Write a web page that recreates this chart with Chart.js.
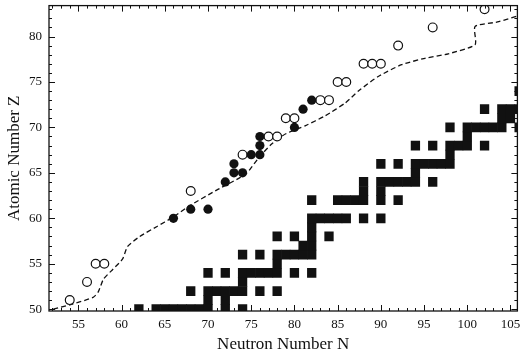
<!DOCTYPE html>
<html>
<head>
<meta charset="utf-8">
<script src="https://cdn.jsdelivr.net/npm/chart.js@4.4.1/dist/chart.umd.min.js"></script>
<style>
  html, body { margin: 0; padding: 0; background: #fff; }
  #wrap { width: 523px; height: 355px; position: relative; }
</style>
</head>
<body>
<div id="wrap"><canvas id="chart"></canvas></div>
<script>
  // tick labels
  const xTicks = [55, 60, 65, 70, 75, 80, 85, 90, 95, 100, 105];
  const yTicks = [50, 55, 60, 65, 70, 75, 80];

  // stable nuclei: proton number and the neutron numbers at that Z
  const stableZ = [50, 51, 52, 53, 54, 55, 56, 57, 58, 59, 60, 62, 63, 64, 65, 66, 67, 68, 69, 70, 71, 72, 74];
  const stableN = [
    [62, 64, 65, 66, 67, 68, 69, 70, 72, 74],
    [70, 72],
    [68, 70, 71, 72, 73, 74, 76, 78],
    [74],
    [70, 72, 74, 75, 76, 77, 78, 80, 82],
    [78],
    [74, 76, 78, 79, 80, 81, 82],
    [81, 82],
    [78, 80, 82, 84],
    [82],
    [82, 83, 84, 85, 86, 88, 90],
    [82, 85, 86, 87, 88, 90, 92],
    [88, 90],
    [88, 90, 91, 92, 93, 94, 96],
    [94],
    [90, 92, 94, 95, 96, 97, 98],
    [98],
    [94, 96, 98, 99, 100, 102],
    [100],
    [98, 100, 101, 102, 103, 104, 106],
    [104, 105],
    [102, 104, 105, 106],
    [106]
  ];

  // open circles
  const openN = [54, 56, 57, 58, 68, 74, 77, 78, 79, 80, 83, 84, 85, 86, 88, 89, 90, 92, 96, 102];
  const openZ = [51, 53, 55, 55, 63, 67, 69, 69, 71, 71, 73, 73, 75, 75, 77, 77, 77, 79, 81, 83];

  // filled circles
  const filledN = [66, 68, 70, 72, 73, 74, 73, 75, 76, 76, 76, 80, 81, 82];
  const filledZ = [60, 61, 61, 64, 65, 65, 66, 67, 67, 68, 69, 70, 72, 73];

  // dashed line
  const dripN = [52.1, 54.1, 56.7, 57.3, 57.9, 59.0, 60.1, 60.7, 62.1, 64.1, 65.9, 67.9, 71.0, 74.4, 75.9, 77.4, 79.0, 81.3, 83.6, 85.9, 87.4, 89.7, 92.4, 95.1, 97.8, 100.9, 100.9, 103.5, 106];
  const dripZ = [50.0, 50.5, 51.3, 51.9, 53.3, 54.4, 55.5, 56.9, 58.0, 59.1, 60.1, 61.4, 63.1, 64.9, 66.7, 68.2, 69.3, 70.2, 71.3, 72.7, 74.0, 75.6, 76.9, 77.6, 78.1, 79.1, 81.1, 81.6, 82.3];

  const ink = '#111';
  const serif = '"Liberation Serif", "DejaVu Serif", serif';

  const toXY = (ns, zs) => ns.map((n, i) => ({ x: n, y: zs[i] }));

  // frame box with inward ticks on all four sides
  const frameTicks = {
    id: 'frameTicks',
    afterDatasetsDraw(chart) {
      const { ctx, chartArea: a, scales: { x, y } } = chart;
      ctx.save();
      ctx.strokeStyle = ink;
      ctx.lineWidth = 1.3;
      ctx.strokeRect(a.left, a.top, a.right - a.left, a.bottom - a.top);
      ctx.lineWidth = 1;
      ctx.beginPath();
      for (let n = Math.ceil(x.min); n <= x.max; n++) {
        const px = Math.round(x.getPixelForValue(n)) + 0.5;
        const len = n % 5 === 0 ? 6 : 3;
        ctx.moveTo(px, a.bottom); ctx.lineTo(px, a.bottom - len);
        ctx.moveTo(px, a.top); ctx.lineTo(px, a.top + len);
      }
      for (let z = Math.ceil(y.min); z <= y.max; z++) {
        const py = Math.round(y.getPixelForValue(z)) + 0.5;
        const len = z % 5 === 0 ? 6 : 3;
        ctx.moveTo(a.left, py); ctx.lineTo(a.left + len, py);
        ctx.moveTo(a.right, py); ctx.lineTo(a.right - len, py);
      }
      ctx.stroke();
      ctx.restore();
    }
  };

  new Chart(document.getElementById('chart'), {
    type: 'scatter',
    data: {
      datasets: [
        {
          label: 'filled',
          data: toXY(filledN, filledZ),
          pointRadius: 4.6,
          pointBackgroundColor: ink,
          pointBorderWidth: 0
        },
        {
          label: 'open',
          data: toXY(openN, openZ),
          pointRadius: 4.4,
          pointBackgroundColor: '#fff',
          pointBorderColor: ink,
          pointBorderWidth: 1.2
        },
        {
          label: 'drip',
          data: toXY(dripN, dripZ),
          showLine: true,
          pointRadius: 0,
          borderColor: ink,
          borderWidth: 1.3,
          borderDash: [5, 3],
          tension: 0.2
        },
        {
          type: 'bar',
          label: 'stable',
          data: stableZ.flatMap((z, i) => stableN[i].map(n => ({ x: n, y: [z - 0.5, z + 0.5] }))),
          backgroundColor: ink,
          borderWidth: 0,
          barPercentage: 1,
          categoryPercentage: 1
        }
      ]
    },
    options: {
      responsive: true,
      maintainAspectRatio: false,
      animation: false,
      layout: { padding: { top: 4, right: 3 } },
      plugins: { legend: { display: false }, tooltip: { enabled: false } },
      scales: {
        x: {
          type: 'linear',
          offset: false,
          min: 51.6,
          max: 105.8,
          grid: { display: false, drawTicks: false, offset: false },
          border: { display: false },
          afterBuildTicks: s => { s.ticks = xTicks.map(v => ({ value: v })); },
          afterFit: s => { s.height = 44; s.paddingLeft = 0; s.paddingRight = 0; },
          ticks: { color: ink, padding: 6, maxRotation: 0, autoSkip: false, font: { family: serif, size: 13 } },
          title: {
            display: true,
            text: 'Neutron Number N',
            color: ink,
            font: { family: serif, size: 17 },
            padding: { top: 0, bottom: 0 }
          }
        },
        y: {
          type: 'linear',
          beginAtZero: false,
          min: 49.8,
          max: 83.4,
          grid: { display: false, drawTicks: false },
          border: { display: false },
          afterBuildTicks: s => { s.ticks = yTicks.map(v => ({ value: v })); },
          afterFit: s => { s.width = 49; s.paddingTop = 0; s.paddingBottom = 0; },
          ticks: { color: ink, padding: 7, autoSkip: false, font: { family: serif, size: 13 } },
          title: {
            display: true,
            text: 'Atomic Number Z',
            color: ink,
            font: { family: serif, size: 17 },
            padding: { top: 4, bottom: 0 }
          }
        }
      }
    },
    plugins: [frameTicks]
  });
</script>
</body>
</html>
